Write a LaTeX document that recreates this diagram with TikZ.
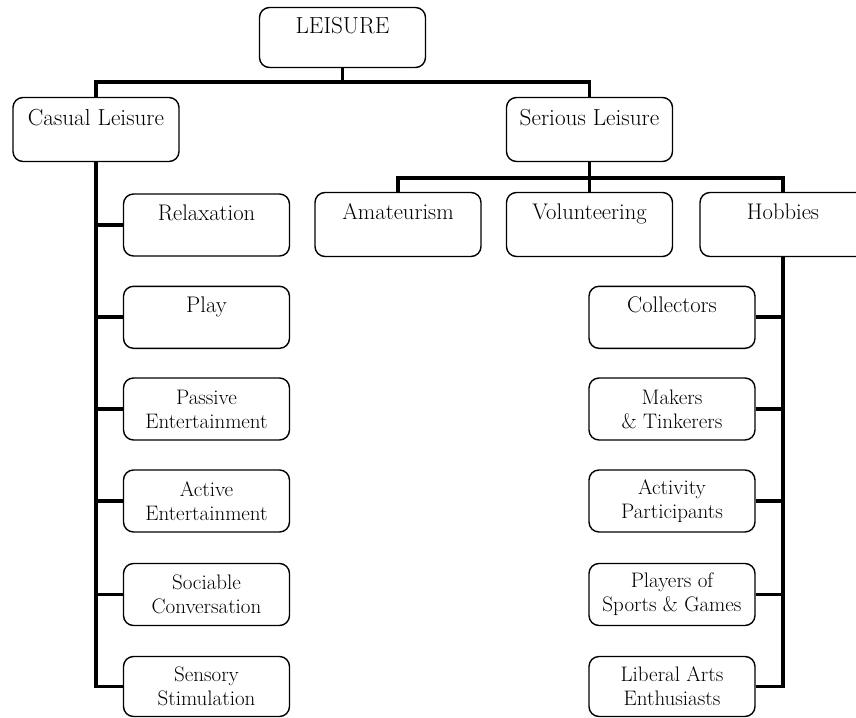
\documentclass[tikz,border=0pt]{standalone}
\tikzset{
  box/.style={draw, line width=1.4pt, rounded corners=10pt, align=center,
    minimum width=166pt, minimum height=62pt, inner sep=0pt},
  head/.style={box, minimum height=64pt, font=\fontsize{23.2}{25}\selectfont},
  single/.style={box, font=\fontsize{22.6}{25}\selectfont},
  double/.style={box, font=\fontsize{21}{24}\selectfont},
  conn/.style={line width=3.8pt}
}
\begin{document}
\begin{tikzpicture}[x=1pt,y=-1pt]
    \clip (0,0) rectangle (856,717);
    \node[head, minimum height=60pt] (leisure) at (342.5,37.5) {LEISURE\\\mbox{}};
    \node[head] (casual)  at (96,129.5)    {Casual Leisure\\\mbox{}};
    \node[head] (serious) at (589.5,129.5) {Serious Leisure\\\mbox{}};
    \node[single, minimum height=64pt] (amateur)   at (398,224.5)   {Amateurism\\\mbox{}};
    \node[single, minimum height=64pt] (volunteer) at (589.5,224.5) {Volunteering\\\mbox{}};
    \node[single, minimum height=64pt] (hobbies)   at (783,224.5)   {Hobbies\\\mbox{}};
    % casual leisure
    \node[single] (relax)    at (206.5,225)   {Relaxation\\\mbox{}};
    \node[single] (play)     at (206.5,317.3) {Play\\\mbox{}};
    \node[double] (passive)  at (206.5,409)   {Passive\\Entertainment};
    \node[double] (active)   at (206.5,501)   {Active\\Entertainment};
    \node[double] (sociable) at (206.5,594.5) {Sociable\\Conversation};
    \node[double, minimum height=60pt] (sensory) at (206.5,686.5) {Sensory\\Stimulation};
    % hobbies
    \node[single] (collect)  at (672,317.3) {Collectors\\\mbox{}};
    \node[double] (makers)   at (672,409)   {Makers\\\& Tinkerers};
    \node[double] (activity) at (672,501)   {Activity\\Participants};
    \node[double] (players)  at (672,594.5) {Players of\\Sports \& Games};
    \node[double, minimum height=60pt] (liberal) at (672,686.5) {Liberal Arts\\Enthusiasts};
    % tree lines
    \draw[conn] (leisure.south) -- ++(0,14) -| (casual.north);
    \draw[conn] (leisure.south) -- ++(0,14) -| (serious.north);
    \draw[conn] (serious.south) -- ++(0,16) -| (amateur.north);
    \draw[conn] (serious.south) -- (volunteer.north);
    \draw[conn] (serious.south) -- ++(0,16) -| (hobbies.north);
    \draw[conn] (casual.south) |- (sensory.west);
    \draw[conn] (relax.west)    -- (relax.west -| casual.south);
    \draw[conn] (play.west)     -- (play.west -| casual.south);
    \draw[conn] (passive.west)  -- (passive.west -| casual.south);
    \draw[conn] (active.west)   -- (active.west -| casual.south);
    \draw[conn] (sociable.west) -- (sociable.west -| casual.south);
    \draw[conn] (hobbies.south) |- (liberal.east);
    \draw[conn] (collect.east)  -- (collect.east -| hobbies.south);
    \draw[conn] (makers.east)   -- (makers.east -| hobbies.south);
    \draw[conn] (activity.east) -- (activity.east -| hobbies.south);
    \draw[conn] (players.east)  -- (players.east -| hobbies.south);
\end{tikzpicture}
\end{document}
